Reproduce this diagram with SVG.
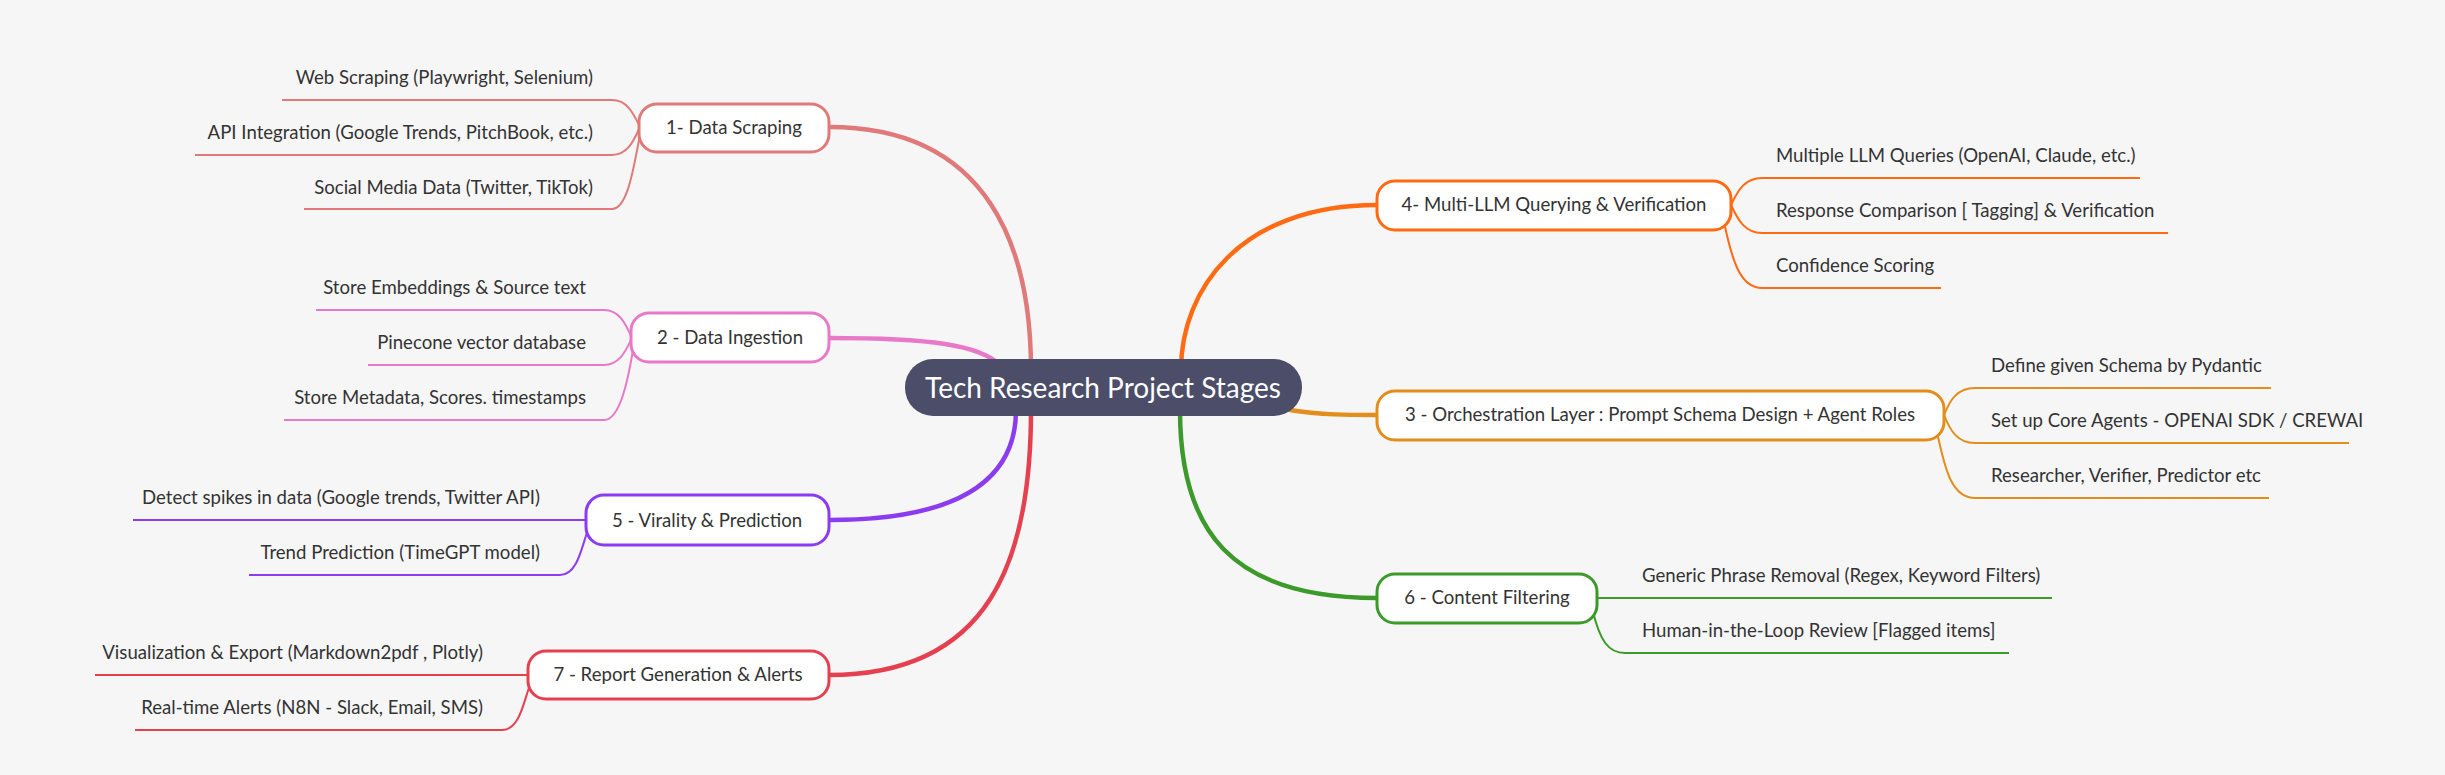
<svg xmlns="http://www.w3.org/2000/svg" width="2445" height="775" viewBox="0 0 2445 775">
<style>
text{font-family:Lato,"Noto Sans","Liberation Sans",sans-serif;fill:#333;font-size:18.6px}
.n{fill:#fff;stroke-width:3}
.l{fill:none;stroke-width:2}
.m{fill:none;stroke-width:4.5;stroke-linecap:round}
.r{text-anchor:end}
.c{text-anchor:middle}
</style>
<rect width="2445" height="775" fill="#f6f6f6"/>
<g id="connectors">
<path class="m" stroke="#e07a7a" d="M829,127 C990,127 1031,250 1031,370"/>
<path class="m" stroke="#e879c8" d="M829,338 C930,338 980,345 1000,365"/>
<path class="m" stroke="#8b3cf0" d="M829,520 C960,520 1016,480 1016,410"/>
<path class="m" stroke="#e5404f" d="M829,675 C990,675 1031,560 1031,410"/>
<path class="m" stroke="#ff6a13" d="M1377,205 C1240,205 1181,290 1181,370"/>
<path class="m" stroke="#e38d1c" d="M1290,410 C1320,415 1350,415 1377,415"/>
<path class="m" stroke="#3b9a2a" d="M1377,598 C1230,598 1180,530 1180,410"/>
<g stroke="#e07a7a" class="l">
<path d="M282,100 H612 C628,100 634,115 640,127"/><path d="M195,155 H612 C628,155 634,140 640,127"/><path d="M304,209 H612 C628,209 634,165 640,135"/>
</g>
<g stroke="#e879c8" class="l">
<path d="M316,310 H604 C620,310 626,325 632,338"/><path d="M368,365 H604 C620,365 626,350 632,338"/><path d="M284,420 H604 C620,420 628,380 633,350"/>
</g>
<g stroke="#8b3cf0" class="l">
<path d="M133,520 H586"/><path d="M249,575 H560 C578,575 582,545 588,530"/>
</g>
<g stroke="#e5404f" class="l">
<path d="M95,675 H528"/><path d="M135,730 H502 C520,730 524,700 530,685"/>
</g>
<g stroke="#ff6a13" class="l">
<path d="M1731,205 C1738,190 1745,178 1762,178 H2140"/><path d="M1731,205 C1738,220 1745,233 1762,233 H2168"/><path d="M1724,222 C1732,260 1740,288 1762,288 H1941"/>
</g>
<g stroke="#e38d1c" class="l">
<path d="M1944,415 C1950,400 1957,388 1975,388 H2271"/><path d="M1944,415 C1950,430 1957,443 1975,443 H2349"/><path d="M1937,432 C1945,470 1952,498 1975,498 H2269"/>
</g>
<g stroke="#3b9a2a" class="l">
<path d="M1597,598 H2052"/><path d="M1593,612 C1600,640 1608,653 1625,653 H2009"/>
</g>
</g>
<g id="root"><rect x="905" y="359" width="397" height="57" rx="28" fill="#4b4d69"/><text x="1103" y="398" class="c" style="fill:#fff;font-size:28px">Tech Research Project Stages</text></g>
<g id="n1"><rect class="n" stroke="#e07a7a" x="639" y="104" width="190" height="48" rx="18"/><text x="734" y="134" class="c">1- Data Scraping</text>
<text x="593" y="84" class="r">Web Scraping (Playwright, Selenium)</text><text x="593" y="139" class="r">API Integration (Google Trends, PitchBook, etc.)</text><text x="593" y="194" class="r">Social Media Data (Twitter, TikTok)</text></g>
<g id="n2"><rect class="n" stroke="#e879c8" x="631" y="313" width="198" height="49" rx="18"/><text x="730" y="344" class="c">2 - Data Ingestion</text>
<text x="586" y="294" class="r">Store Embeddings &amp; Source text</text><text x="586" y="349" class="r">Pinecone vector database</text><text x="586" y="404" class="r">Store Metadata, Scores. timestamps</text></g>
<g id="n5"><rect class="n" stroke="#8b3cf0" x="586" y="495" width="243" height="50" rx="18"/><text x="707" y="527" class="c">5 - Virality &amp; Prediction</text>
<text x="540" y="504" class="r">Detect spikes in data (Google trends, Twitter API)</text><text x="540" y="559" class="r">Trend Prediction (TimeGPT model)</text></g>
<g id="n7"><rect class="n" stroke="#e5404f" x="528" y="651" width="301" height="48" rx="18"/><text x="678" y="681" class="c">7 - Report Generation &amp; Alerts</text>
<text x="483" y="659" class="r">Visualization &amp; Export (Markdown2pdf , Plotly)</text><text x="483" y="714" class="r">Real-time Alerts (N8N - Slack, Email, SMS)</text></g>
<g id="n4"><rect class="n" stroke="#ff6a13" x="1377" y="181" width="354" height="49" rx="18"/><text x="1554" y="211" class="c">4- Multi-LLM Querying &amp; Verification</text>
<text x="1776" y="162">Multiple LLM Queries (OpenAI, Claude, etc.)</text><text x="1776" y="217">Response Comparison [ Tagging] &amp; Verification</text><text x="1776" y="272">Confidence Scoring</text></g>
<g id="n3"><rect class="n" stroke="#e38d1c" x="1377" y="391" width="567" height="49" rx="18"/><text x="1660" y="421" class="c">3 - Orchestration Layer : Prompt Schema Design + Agent Roles</text>
<text x="1991" y="372">Define given Schema by Pydantic</text><text x="1991" y="427">Set up Core Agents - OPENAI SDK / CREWAI</text><text x="1991" y="482">Researcher, Verifier, Predictor etc</text></g>
<g id="n6"><rect class="n" stroke="#3b9a2a" x="1377" y="574" width="220" height="49" rx="18"/><text x="1487" y="604" class="c">6 - Content Filtering</text>
<text x="1642" y="582">Generic Phrase Removal (Regex, Keyword Filters)</text><text x="1642" y="637">Human-in-the-Loop Review [Flagged items]</text></g>
</svg>
